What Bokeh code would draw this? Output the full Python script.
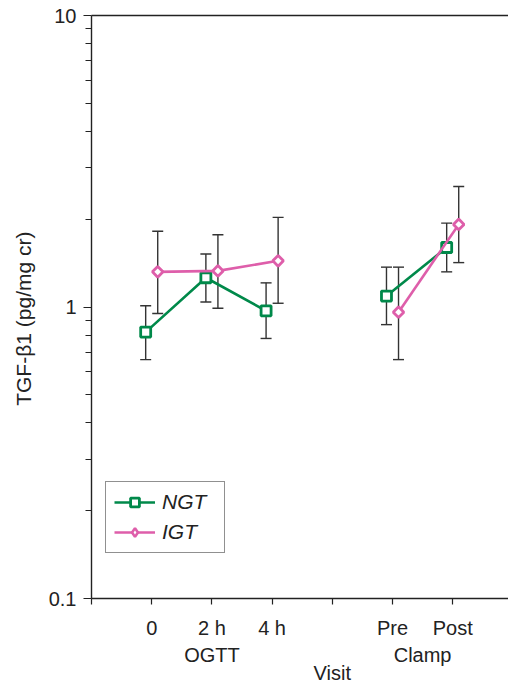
import math
from bokeh.plotting import figure
from bokeh.models import (ColumnDataSource, Whisker, TeeHead, FixedTicker, LinearAxis,
                          CustomJSTickFormatter, Legend, LegendItem, Range1d)
from bokeh.embed import file_html
from bokeh.resources import INLINE

# ---- data ----
tick_labels = ["", "0", "2 h", "4 h", "", "Pre", "Post"]
visits = ["0", "2 h", "4 h", "Pre", "Post"]
ngt_mean = [0.82, 1.26, 0.97, 1.09, 1.60]
ngt_upper = [1.01, 1.52, 1.21, 1.37, 1.94]
ngt_lower = [0.66, 1.04, 0.78, 0.87, 1.32]
igt_mean = [1.32, 1.33, 1.44, 0.96, 1.92]
igt_upper = [1.82, 1.77, 2.03, 1.37, 2.59]
igt_lower = [0.95, 0.99, 1.03, 0.66, 1.42]
group_labels = ["OGTT", "Clamp"]
group_members = [["0", "2 h", "4 h"], ["Pre", "Post"]]
x_title = "Visit"
y_title = "TGF-\u03b21 (pg/mg cr)"
y_ticks = [0.1, 1, 10]
y_minor = [m * d for d in (0.1, 1) for m in range(2, 10)]

GREEN = "#00894A"
PINK = "#DE5EAA"
INK = "#222222"
FONT = "Liberation Sans"
FS = "20px"

pos = [tick_labels.index(v) for v in visits]
off = 0.1

p = figure(width=508, height=686, y_axis_type="log", output_backend="svg",
           toolbar_location=None, x_range=Range1d(0, 417 / 60.2), y_range=Range1d(0.1, 10),
           min_border_left=91, min_border_right=0, min_border_top=15, min_border_bottom=86)
p.outline_line_color = None
p.grid.visible = False
p.background_fill_color = "white"
p.border_fill_color = "white"

# axes
xa = p.xaxis[0]
xa.ticker = FixedTicker(ticks=list(range(len(tick_labels))))
xa.major_label_overrides = {i: t for i, t in enumerate(tick_labels)}
xa.major_tick_in = 0
xa.major_tick_out = 6
xa.major_label_standoff = 12
ya = p.yaxis[0]
ya.ticker = FixedTicker(ticks=y_ticks, minor_ticks=y_minor)
ya.formatter = CustomJSTickFormatter(code="return tick.toString();")
ya.major_tick_in = 0
ya.major_tick_out = 8
ya.minor_tick_in = 0
ya.minor_tick_out = 6
ya.major_label_standoff = 7
# trailing no-break spaces nudge the rotated title down to where the original sits
ya.axis_label = y_title + "\u00a0" * 4
ya.axis_label_standoff = 11
ya.axis_label_text_font = FONT
ya.axis_label_text_font_size = "21px"
ya.axis_label_text_font_style = "normal"
ya.axis_label_text_color = INK
for ax in (xa, ya):
    ax.axis_line_color = INK
    ax.axis_line_width = 1.4
    ax.major_tick_line_color = INK
    ax.major_tick_line_width = 1.2
    ax.minor_tick_line_width = 1.2
    ax.minor_tick_line_color = INK if ax is ya else None
    ax.major_label_text_font = FONT
    ax.major_label_text_font_size = FS
    ax.major_label_text_color = INK

top = LinearAxis(ticker=FixedTicker(ticks=[]), axis_line_color=INK, axis_line_width=1.4,
                 major_tick_line_color=None, minor_tick_line_color=None,
                 major_label_text_font_size="0px", major_label_standoff=0,
                 major_tick_out=0, minor_tick_out=0)
p.add_layout(top, "above")

# group labels (second row) and the "Visit" title (third row) as extra bottom axes
group_pos = [sum(tick_labels.index(m) for m in mem) / len(mem) if len(mem) == 2
             else tick_labels.index(mem[len(mem) // 2]) for mem in group_members]
gax = LinearAxis(ticker=FixedTicker(ticks=group_pos),
                 major_label_overrides={g: t for g, t in zip(group_pos, group_labels)},
                 axis_line_color=None, major_tick_line_color=None, minor_tick_line_color=None,
                 major_tick_out=0, major_tick_in=0, minor_tick_out=0, major_label_standoff=2,
                 major_label_text_font=FONT, major_label_text_font_size=FS,
                 major_label_text_color=INK)
p.add_layout(gax, "below")
vpos = tick_labels.index("", 1)
vax = LinearAxis(ticker=FixedTicker(ticks=[vpos]), major_label_overrides={vpos: x_title},
                 axis_line_color=None, major_tick_line_color=None, minor_tick_line_color=None,
                 major_tick_out=0, major_tick_in=0, minor_tick_out=0, major_label_standoff=-7,
                 major_label_text_font=FONT, major_label_text_font_size=FS,
                 major_label_text_color=INK)
p.add_layout(vax, "below")


def series(mean, upper, lower, dx, color, marker, size, angle, legend_marker, label):
    src = ColumnDataSource(dict(x=[q + dx for q in pos], y=mean, up=upper, lo=lower))
    w = Whisker(source=src, base="x", upper="up", lower="lo", dimension="height",
                line_color="#333333", line_width=1.4, level="underlay",
                upper_head=TeeHead(size=11, line_color="#333333", line_width=1.4),
                lower_head=TeeHead(size=11, line_color="#333333", line_width=1.4))
    p.add_layout(w)
    lines = []
    for members in group_members:
        idx = [visits.index(m) for m in members]
        gs = ColumnDataSource(dict(x=[pos[i] + dx for i in idx], y=[mean[i] for i in idx]))
        lines.append(p.line("x", "y", source=gs, line_color=color, line_width=2.6))
    sc = p.scatter("x", "y", source=src, marker=marker, size=size, angle=angle,
                   fill_color="white", line_color=color, line_width=2.8)
    leg = sc
    if legend_marker != marker:
        leg = p.scatter("x", "y", source=src, marker=legend_marker, size=size,
                        fill_color="white", line_color=color, line_width=2.6, visible=False)
    return LegendItem(label=label, renderers=[lines[0], leg])


it1 = series(ngt_mean, ngt_upper, ngt_lower, -off, GREEN, "square", 10, 0, "square", "NGT")
it2 = series(igt_mean, igt_upper, igt_lower, off, PINK, "square", 7.5, math.pi / 4,
             "diamond", "IGT")

legend = Legend(items=[it1, it2], location=(14, 45), glyph_width=41, glyph_height=22,
                label_height=22, label_width=54, spacing=6, padding=8, label_standoff=7,
                label_text_font=FONT, label_text_font_size="21px", label_text_font_style="italic",
                label_text_color=INK, border_line_color=INK, border_line_width=1.3,
                background_fill_color="white", background_fill_alpha=1.0, margin=0)
p.add_layout(legend)

open("out.html", "w").write(file_html(p, INLINE))
